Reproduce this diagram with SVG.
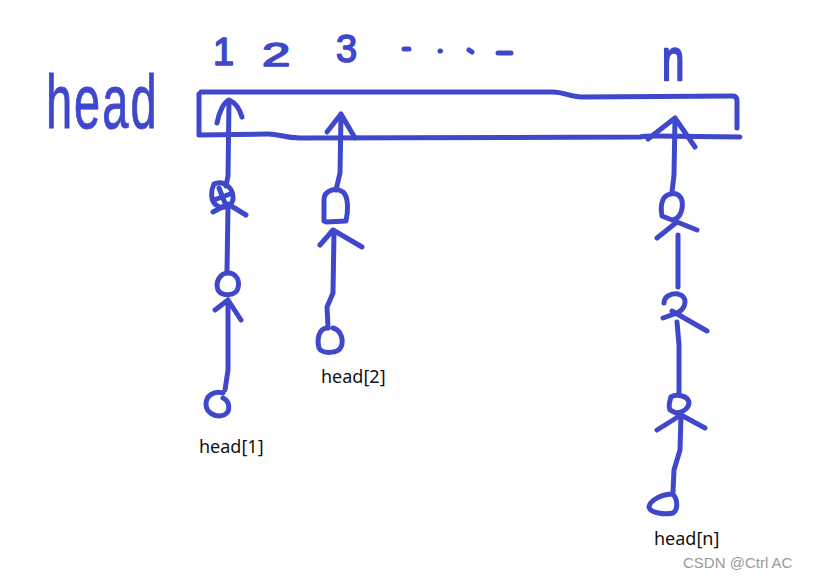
<svg xmlns="http://www.w3.org/2000/svg" width="827" height="578" viewBox="0 0 827 578">
<style>
.ink{fill:none;stroke:#3f48cc;stroke-width:5;stroke-linecap:round;stroke-linejoin:round}
.hand{font-family:"Liberation Sans",Arial,sans-serif;fill:#3f48cc;stroke:#3f48cc;stroke-width:1.6;stroke-linejoin:round}
.lbl{font-family:"Noto Sans","Open Sans",sans-serif;font-size:18px;fill:#111}
.wm{font-family:"Liberation Sans",Arial,sans-serif;font-size:15px;fill:#9a9a9a}
</style>
<rect width="827" height="578" fill="#fff"/>
<g id="title">
<text x="46" y="128" font-size="47" letter-spacing="2" font-family="Liberation Sans, Arial, sans-serif" fill="#3f48cc" stroke="#3f48cc" stroke-width="0.6" transform="translate(46 128) scale(1 1.6) translate(-46 -128)">head</text>
</g>
<g id="indices">
<text class="hand" x="213" y="65" font-size="38">1</text>
<text class="hand" x="262" y="66" font-size="34" transform="translate(262 66) scale(1.5 1) translate(-262 -66)">2</text>
<text class="hand" x="336" y="62" font-size="38">3</text>
<path class="ink" d="M404,49 L409,49 M440,51 L440.5,51 M469,50 L472,52 M498,53 L511,53"/>
<text class="hand" x="662" y="80" font-size="40" transform="translate(662 80) scale(1 1.5) translate(-662 -80)">n</text>
</g>
<g id="array">
<path class="ink" d="M201,92 L553,92 C564,92 570,97 582,97 L733,96 Q737,96 737,101 L737,128"/>
<path class="ink" d="M199,94 L199,135 L268,134 C280,134 284,138 300,138 L640,137 C645,136 650,136 655,136 L740,137"/>
</g>
<g id="connectors">
<path class="ink" d="M229,100 L228,176 L226,186 M217,123 C219,112 224,102 229,100 C236,103 240,110 242,117"/>
<path class="ink" d="M228,206 L227,272 M213,212 L228,204 L246,215"/>
<path class="ink" d="M228,300 L228,370 L225,390 M215,310 L228,300 L241,320"/>
<path class="ink" d="M341,114 L340,173 L336,190 M327,132 L341,114 L355,138"/>
<path class="ink" d="M334,232 L333,293 L327,307 L328,327 M320,245 L333,230 L362,247"/>
<path class="ink" d="M675,118 L674,175 L672,192 M648,139 L675,118 L695,147"/>
<path class="ink" d="M678,235 L678,287 M657,238 L677,222 L697,230"/>
<path class="ink" d="M677,322 L679,345 L679,393"/>
<path class="ink" d="M681,415 L680,450 L674,470 L673,492 M657,430 L681,415 L705,428"/>
</g>
<g id="node1a"><path class="ink" d="M214,184 C222,180 232,186 233,196 C234,206 224,210 216,205 C210,200 211,190 214,184 M219,188 L225,203 M214,200 L230,194"/></g>
<g id="node1b"><path class="ink" d="M228,273 C236,273 240,280 238,288 C236,296 222,297 218,290 C215,282 220,273 228,273 Z"/></g>
<g id="head1"><path class="ink" d="M223,393 C214,390 206,396 206,404 C206,413 216,418 224,415 C231,412 230,401 223,398"/>
<text class="lbl" x="199" y="453">head[1]</text></g>
<g id="node2a"><path class="ink" d="M324,221 L324,200 C324,190 336,187 343,192 C349,197 348,212 346,221 L326,222"/></g>
<g id="head2"><path class="ink" d="M328,328 C318,328 317,340 319,348 C322,354 338,354 341,347 C344,340 341,330 333,328"/>
<text class="lbl" x="321" y="383">head[2]</text></g>
<g id="nodeNa"><path class="ink" d="M671,194 C662,195 660,205 662,216 L672,220 C682,219 684,205 681,198 C678,194 674,193 671,194"/></g>
<g id="nodeNb"><path class="ink" d="M664,303 C664,296 672,293 678,294 C688,296 687,308 677,313 L663,318 M672,311 L707,331"/></g>
<g id="nodeNc"><path class="ink" d="M671,397 C676,394 687,395 689,402 C689,408 684,412 676,413 L670,410 C668,406 670,400 671,397"/></g>
<g id="headN"><path class="ink" d="M673,494 C662,494 650,500 649,507 C650,513 665,515 673,513 C678,510 678,500 673,494"/>
<text class="lbl" x="654" y="545">head[n]</text></g>
<text class="wm" x="683" y="568">CSDN @Ctrl AC</text>
</svg>
